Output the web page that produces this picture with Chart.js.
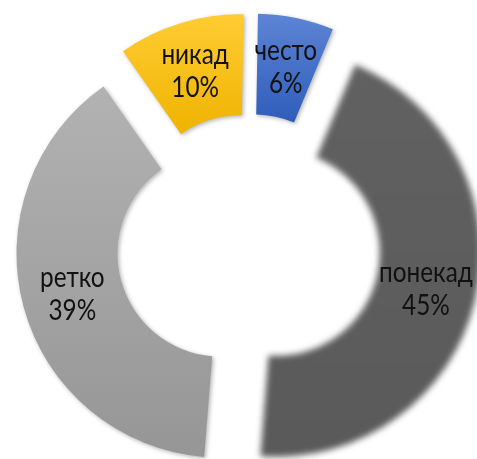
<!DOCTYPE html>
<html>
<head>
<meta charset="utf-8">
<script src="https://cdn.jsdelivr.net/npm/chart.js@4.4.1/dist/chart.umd.min.js"></script>
<style>
  html, body { margin: 0; padding: 0; background: #ffffff; }
  #wrap { width: 477px; height: 459px; position: relative; }
</style>
</head>
<body>
<div id="wrap"><canvas id="c"></canvas></div>
<script>
// ---- data ----
const categories = ['често', 'понекад', 'ретко', 'никад'];
const shares = [6, 45, 39, 10];
const percentLabels = ['6%', '45%', '39%', '10%'];

// ---- styles ----
const topColors = ['#5d84d5', '#616161', '#b2b2b2', '#ffcc33'];
const bottomColors = ['#2f5dba', '#5a5a5a', '#969696', '#efb300'];
const softEdge = [false, true, false, false];
const EXPLODE = 29;
const TEXT_SCALE_X = 0.87;

const explodePlugin = {
  id: 'explode',
  beforeDatasetDraw(chart, args) {
    const ctx = chart.ctx;
    args.meta.data.forEach((arc, i) => {
      const {x, y, startAngle, endAngle, innerRadius, outerRadius} = arc;
      const mid = (startAngle + endAngle) / 2;
      const dx = Math.cos(mid) * EXPLODE, dy = Math.sin(mid) * EXPLODE;
      let yMin = Infinity, yMax = -Infinity;
      for (let k = 0; k <= 60; k++) {
        const a = startAngle + (endAngle - startAngle) * k / 60;
        [innerRadius, outerRadius].forEach(r => {
          const yy = y + Math.sin(a) * r;
          yMin = Math.min(yMin, yy); yMax = Math.max(yMax, yy);
        });
      }
      const g = ctx.createLinearGradient(0, yMin, 0, yMax);
      g.addColorStop(0, topColors[i]);
      g.addColorStop(1, bottomColors[i]);
      ctx.save();
      ctx.translate(dx, dy);
      if (softEdge[i]) {
        ctx.filter = 'blur(3px)';
      } else {
        ctx.shadowColor = 'rgba(0,0,0,0.3)';
        ctx.shadowBlur = 4;
        ctx.shadowOffsetX = 1.5;
        ctx.shadowOffsetY = 1.5;
      }
      const saved = arc.options;
      arc.options = Object.assign({}, saved, {backgroundColor: g, borderWidth: 0});
      arc.draw(ctx);
      arc.options = saved;
      ctx.restore();
    });
    return false;
  },
  afterDatasetsDraw(chart) {
    const ctx = chart.ctx;
    const meta = chart.getDatasetMeta(0);
    const drawText = (t, px, py) => {
      ctx.save();
      ctx.translate(px, py);
      ctx.scale(TEXT_SCALE_X, 1);
      ctx.fillText(t, 0, 0);
      ctx.restore();
    };
    ctx.save();
    ctx.font = '28px Lato, "DejaVu Sans Condensed", sans-serif';
    ctx.fillStyle = '#111111';
    ctx.textAlign = 'center';
    ctx.textBaseline = 'alphabetic';
    meta.data.forEach((arc, i) => {
      const {x, y, startAngle, endAngle, innerRadius, outerRadius} = arc;
      const mid = (startAngle + endAngle) / 2;
      const rr = (innerRadius + outerRadius) / 2 + EXPLODE;
      const cx = x + Math.cos(mid) * rr;
      const cy = y + Math.sin(mid) * rr;
      drawText(categories[i], cx, cy - 7);
      drawText(percentLabels[i], cx, cy + 26);
    });
    ctx.restore();
  }
};

new Chart(document.getElementById('c'), {
  type: 'doughnut',
  data: {
    labels: categories,
    datasets: [{
      data: shares,
      backgroundColor: topColors,
      borderWidth: 0
    }]
  },
  options: {
    responsive: true,
    maintainAspectRatio: false,
    animation: false,
    cutout: '50.5%',
    radius: 204,
    rotation: 1,
    layout: { padding: { left: 20, right: 0, top: 33, bottom: 0 } },
    plugins: {
      legend: { display: false },
      tooltip: { enabled: false }
    },
    events: []
  },
  plugins: [explodePlugin]
});
</script>
</body>
</html>
